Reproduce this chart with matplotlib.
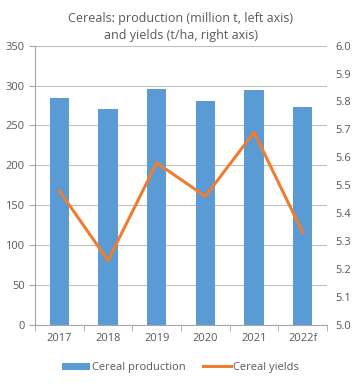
import matplotlib.pyplot as plt
import numpy as np

years = ['2017', '2018', '2019', '2020', '2021', '2022f']
production = [284, 270, 296, 281, 295, 273]
yields = [5.48, 5.23, 5.58, 5.46, 5.69, 5.33]

grey = '#595959'
plt.rcParams['font.family'] = ['Open Sans', 'DejaVu Sans']

fig = plt.figure(figsize=(3.61, 3.87), dpi=100)
ax = fig.add_axes([0.097, 0.161, 0.809, 0.721])
x = np.arange(len(years))

ax.bar(x, production, width=0.4, color='#5B9BD5', label='Cereal production', zorder=2)
ax.set_ylim(0, 350)
ax.set_yticks(range(0, 351, 50))
ax.set_xlim(-0.5, len(years) - 0.5)
ax.set_xticks(x)
ax.set_xticklabels(years)
ax.set_xticks(np.arange(-0.5, len(years), 1), minor=True)
ax.tick_params(axis='x', which='major', length=0, pad=6, colors=grey, labelsize=8)
ax.tick_params(axis='x', which='minor', length=4, color='#A6A6A6')
ax.tick_params(axis='y', length=4, color='#A6A6A6', colors=grey, labelsize=8)
ax.grid(axis='y', color='#BFBFBF', linewidth=0.8, zorder=0)
for s in ['top', 'right']:
    ax.spines[s].set_visible(False)
for s in ['left', 'bottom']:
    ax.spines[s].set_color('#A6A6A6')

ax2 = ax.twinx()
ax2.plot(x, yields, color='#ED7D31', linewidth=2.2, label='Cereal yields', zorder=3)
ax2.set_ylim(5.0, 6.0)
ax2.set_yticks(np.arange(5.0, 6.01, 0.1))
ax2.set_yticklabels([f'{v:.1f}' for v in np.arange(5.0, 6.01, 0.1)])
ax2.tick_params(axis='y', length=0, pad=6, colors=grey, labelsize=8)
for s in ax2.spines.values():
    s.set_visible(False)

fig.text(0.5, 0.97, 'Cereals: production (million t, left axis)\nand yields (t/ha, right axis)',
         ha='center', va='top', fontsize=9, color=grey, linespacing=1.4)

h1, l1 = ax.get_legend_handles_labels()
h2, l2 = ax2.get_legend_handles_labels()
fig.legend(h1 + h2, l1 + l2, loc='center', bbox_to_anchor=(0.5, 0.05), ncol=2,
           frameon=False, fontsize=8, labelcolor=grey, handlelength=2.5,
           handleheight=0.6, handletextpad=0.2, columnspacing=1.6)

fig.savefig('out.png', dpi=100)
